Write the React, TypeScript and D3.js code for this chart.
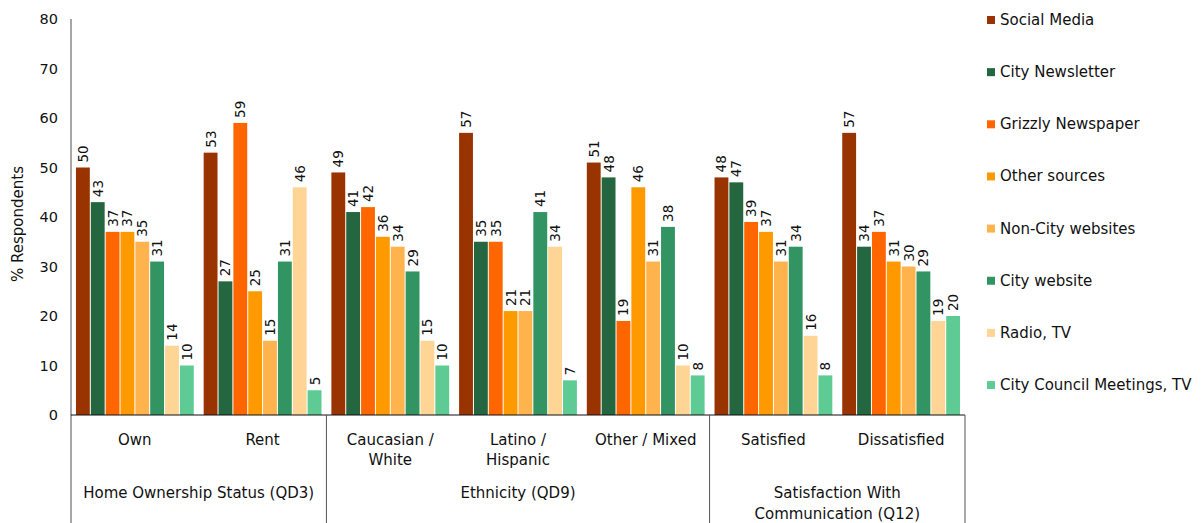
import React from "react";
import * as d3 from "d3";

const series = [
  "Social Media",
  "City Newsletter",
  "Grizzly Newspaper",
  "Other sources",
  "Non-City websites",
  "City website",
  "Radio, TV",
  "City Council Meetings, TV",
];

const colors = [
  "#993300",
  "#236640",
  "#FF6600",
  "#FF9900",
  "#FFB34D",
  "#319462",
  "#FFD596",
  "#5ECB94",
];

const categories = [
  ["Own"],
  ["Rent"],
  ["Caucasian /", "White"],
  ["Latino /", "Hispanic"],
  ["Other / Mixed"],
  ["Satisfied"],
  ["Dissatisfied"],
];

// one row per category, one value per series
const values = [
  [50, 43, 37, 37, 35, 31, 14, 10],
  [53, 27, 59, 25, 15, 31, 46, 5],
  [49, 41, 42, 36, 34, 29, 15, 10],
  [57, 35, 35, 21, 21, 41, 34, 7],
  [51, 48, 19, 46, 31, 38, 10, 8],
  [48, 47, 39, 37, 31, 34, 16, 8],
  [57, 34, 37, 31, 30, 29, 19, 20],
];

// question groups: label lines and span over categories [start, end)
const groups = [
  { lines: ["Home Ownership Status (QD3)"], start: 0, end: 2 },
  { lines: ["Ethnicity (QD9)"], start: 2, end: 5 },
  { lines: ["Satisfaction With", "Communication (Q12)"], start: 5, end: 7 },
];

const yTicks = [0, 10, 20, 30, 40, 50, 60, 70, 80];

const W = 1201;
const H = 523;
const left = 71;
const right = 965;
const top = 19;
const bottom = 415;
const font = "'DejaVu Sans', Verdana, sans-serif";

export default function App() {
  const x0 = d3
    .scaleBand<number>()
    .domain(d3.range(categories.length))
    .range([left, right])
    .padding(0);
  const x1 = d3
    .scaleBand<number>()
    .domain(d3.range(series.length))
    .range([0, x0.bandwidth()])
    .paddingInner(0)
    .paddingOuter(0.3);
  const y = d3.scaleLinear().domain([0, 80]).range([bottom, top]);

  const sepX = groups.map((g) => x0(g.end - 1)! + x0.bandwidth());

  return (
    <svg
      width={W}
      height={H}
      style={{ position: "absolute", left: 0, top: 0, background: "#fff" }}
      fontFamily={font}
    >
      {/* bars */}
      {values.map((row, ci) => (
        <g key={ci} transform={`translate(${x0(ci)},0)`}>
          {row.map((v, si) => (
            <rect
              key={si}
              x={x1(si)! + 0.5}
              y={y(v)}
              width={x1.bandwidth() - 1}
              height={y(0) - y(v)}
              fill={colors[si]}
            />
          ))}
          {row.map((v, si) => {
            const cx = x1(si)! + x1.bandwidth() / 2;
            const ty = y(v) - 5;
            return (
              <text
                key={"t" + si}
                transform={`translate(${cx},${ty}) rotate(-90)`}
                fontSize={13.5}
                dominantBaseline="central"
                fill="#111"
              >
                {v}
              </text>
            );
          })}
        </g>
      ))}

      {/* y axis */}
      <line x1={left} x2={left} y1={top} y2={H} stroke="#888" strokeWidth={1.5} />
      {yTicks.map((t) => (
        <text
          key={t}
          x={58}
          y={y(t)}
          textAnchor="end"
          dominantBaseline="central"
          fontSize={14.5}
          fill="#111"
        >
          {t}
        </text>
      ))}
      <text
        transform={`translate(18,${(top + bottom) / 2 + 7}) rotate(-90)`}
        textAnchor="middle"
        dominantBaseline="central"
        fontSize={15}
        fill="#111"
      >
        % Respondents
      </text>

      {/* x axis */}
      <line x1={left} x2={right} y1={bottom} y2={bottom} stroke="#111" strokeWidth={1} />
      {sepX.map((sx, i) => (
        <line key={i} x1={sx} x2={sx} y1={bottom} y2={H} stroke="#555" strokeWidth={1} />
      ))}
      {categories.map((lines, ci) => (
        <text
          key={ci}
          x={x0(ci)! + x0.bandwidth() / 2}
          y={440}
          textAnchor="middle"
          dominantBaseline="central"
          fontSize={15}
          fill="#111"
        >
          {lines.map((l, li) => (
            <tspan key={li} x={x0(ci)! + x0.bandwidth() / 2} dy={li === 0 ? 0 : 20}>
              {l}
            </tspan>
          ))}
        </text>
      ))}
      {groups.map((g, gi) => {
        const cx = (x0(g.start)! + x0(g.end - 1)! + x0.bandwidth()) / 2;
        return (
          <text
            key={gi}
            x={cx}
            y={493}
            textAnchor="middle"
            dominantBaseline="central"
            fontSize={15}
            fill="#111"
          >
            {g.lines.map((l, li) => (
              <tspan key={li} x={cx} dy={li === 0 ? 0 : 21}>
                {l}
              </tspan>
            ))}
          </text>
        );
      })}

      {/* legend */}
      {series.map((s, si) => {
        const ly = 20 + si * 52.15;
        return (
          <g key={s} transform={`translate(987,${ly})`}>
            <rect x={0} y={-4} width={8} height={8} fill={colors[si]} />
            <text x={13} y={0} dominantBaseline="central" fontSize={15} fill="#111">
              {s}
            </text>
          </g>
        );
      })}
    </svg>
  );
}
